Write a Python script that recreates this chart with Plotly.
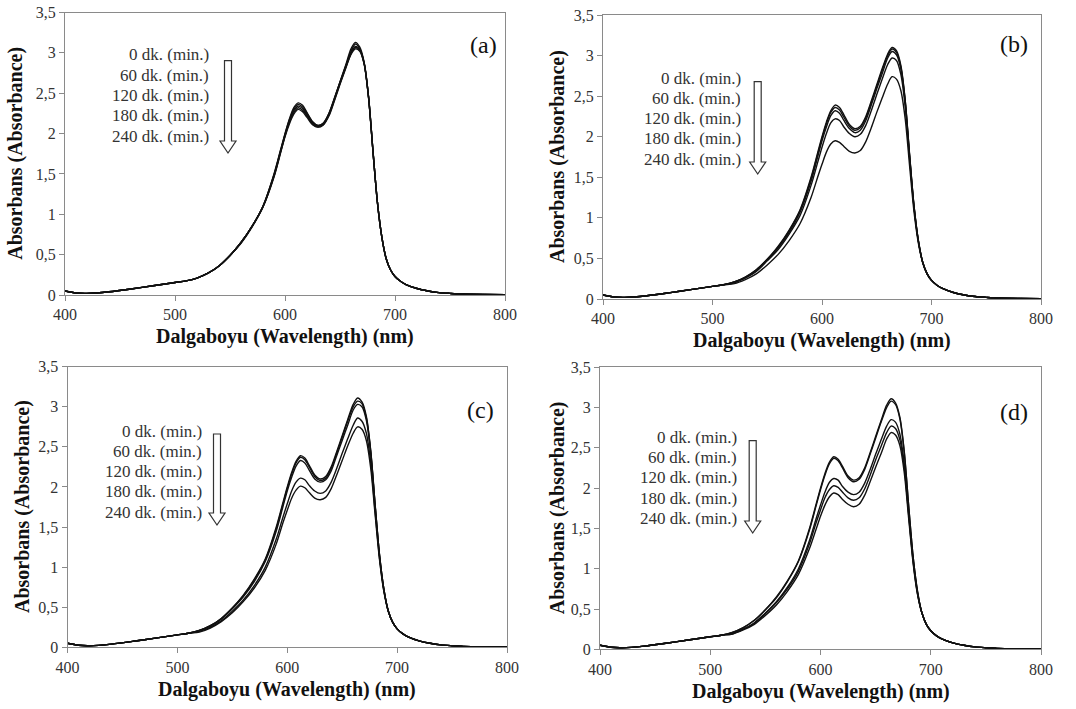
import plotly.graph_objects as go

W, H = 1076, 709

# ---------------- data ----------------
WL_LEFT = [400, 410, 420, 440, 460, 480, 500, 510]
WL_MID = [520, 530, 540, 550, 560, 570, 580, 590, 596, 600, 604, 608, 612, 616,
          620, 625, 630, 635, 640, 645, 650, 655, 660, 664, 668, 672, 676, 680, 684, 688]
WL_RIGHT = [692, 696, 700, 705, 710, 720, 730, 740, 750, 760, 780, 800]

ABS_LEFT = [0.05, 0.025, 0.02, 0.04, 0.075, 0.115, 0.155, 0.175]
ABS_RIGHT = [0.45, 0.31, 0.23, 0.17, 0.13, 0.08, 0.05, 0.03, 0.02, 0.012, 0.006, 0.003]

TIME_LABELS = ["0 dk. (min.)", "60 dk. (min.)", "120 dk. (min.)", "180 dk. (min.)", "240 dk. (min.)"]
PANEL_LABELS = ["(a)", "(b)", "(c)", "(d)"]
Y_TICK_VALS = [0, 0.5, 1, 1.5, 2, 2.5, 3, 3.5]
Y_TICK_TEXT = ["0", "0,5", "1", "1,5", "2", "2,5", "3", "3,5"]
X_TICK_VALS = [400, 500, 600, 700, 800]

# panel (a)
a_0 = [0.21, 0.27, 0.36, 0.49, 0.65, 0.85, 1.10, 1.50, 1.80, 2.00, 2.18, 2.32, 2.38, 2.35,
       2.26, 2.15, 2.10, 2.13, 2.25, 2.44, 2.64, 2.84, 3.05, 3.13, 3.07, 2.88, 2.45, 1.78, 1.15, 0.72]
a_60 = [0.21, 0.27, 0.36, 0.49, 0.65, 0.85, 1.10, 1.49, 1.79, 1.99, 2.17, 2.30, 2.36, 2.33,
        2.25, 2.14, 2.10, 2.13, 2.25, 2.44, 2.64, 2.83, 3.02, 3.11, 3.05, 2.87, 2.45, 1.78, 1.15, 0.72]
a_120 = [0.21, 0.27, 0.36, 0.49, 0.65, 0.85, 1.10, 1.48, 1.78, 1.98, 2.15, 2.28, 2.34, 2.31,
         2.23, 2.13, 2.09, 2.12, 2.24, 2.43, 2.63, 2.82, 3.00, 3.08, 3.04, 2.87, 2.45, 1.78, 1.15, 0.72]
a_180 = [0.21, 0.27, 0.36, 0.49, 0.65, 0.85, 1.09, 1.47, 1.77, 1.97, 2.14, 2.26, 2.32, 2.29,
         2.22, 2.12, 2.08, 2.11, 2.23, 2.42, 2.62, 2.81, 2.99, 3.07, 3.03, 2.86, 2.44, 1.78, 1.15, 0.72]
a_240 = [0.21, 0.27, 0.36, 0.49, 0.64, 0.84, 1.09, 1.46, 1.76, 1.96, 2.12, 2.24, 2.30, 2.27,
         2.20, 2.11, 2.08, 2.11, 2.22, 2.41, 2.61, 2.80, 2.98, 3.05, 3.02, 2.86, 2.44, 1.77, 1.15, 0.72]

# panel (b)
b_0 = [0.21, 0.27, 0.36, 0.49, 0.65, 0.85, 1.10, 1.50, 1.80, 2.00, 2.18, 2.32, 2.39, 2.36,
       2.27, 2.15, 2.10, 2.13, 2.25, 2.44, 2.64, 2.84, 3.02, 3.10, 3.06, 2.88, 2.45, 1.78, 1.15, 0.72]
b_60 = [0.21, 0.27, 0.36, 0.49, 0.64, 0.84, 1.09, 1.48, 1.78, 1.98, 2.16, 2.30, 2.36, 2.33,
        2.24, 2.13, 2.08, 2.11, 2.23, 2.42, 2.62, 2.82, 3.00, 3.08, 3.04, 2.86, 2.44, 1.77, 1.15, 0.72]
b_120 = [0.21, 0.26, 0.35, 0.48, 0.63, 0.82, 1.07, 1.45, 1.75, 1.95, 2.12, 2.26, 2.32, 2.29,
         2.20, 2.10, 2.05, 2.08, 2.20, 2.39, 2.59, 2.78, 2.97, 3.05, 3.01, 2.84, 2.42, 1.76, 1.14, 0.72]
b_180 = [0.20, 0.26, 0.34, 0.47, 0.61, 0.80, 1.03, 1.40, 1.68, 1.87, 2.04, 2.17, 2.22, 2.20,
         2.12, 2.04, 2.00, 2.03, 2.14, 2.32, 2.52, 2.71, 2.89, 2.97, 2.94, 2.77, 2.37, 1.73, 1.13, 0.71]
b_240 = [0.19, 0.24, 0.31, 0.42, 0.55, 0.72, 0.93, 1.25, 1.50, 1.66, 1.81, 1.91, 1.95, 1.93,
         1.88, 1.82, 1.80, 1.83, 1.94, 2.11, 2.30, 2.48, 2.65, 2.74, 2.71, 2.57, 2.22, 1.64, 1.08, 0.69]

# panel (c)
c_0 = [0.21, 0.27, 0.36, 0.49, 0.65, 0.85, 1.10, 1.50, 1.80, 2.00, 2.18, 2.32, 2.39, 2.36,
       2.27, 2.15, 2.10, 2.13, 2.25, 2.44, 2.64, 2.84, 3.03, 3.11, 3.06, 2.88, 2.45, 1.78, 1.15, 0.72]
c_60 = [0.21, 0.27, 0.36, 0.49, 0.64, 0.84, 1.09, 1.48, 1.78, 1.98, 2.16, 2.30, 2.37, 2.34,
        2.25, 2.13, 2.08, 2.11, 2.23, 2.42, 2.62, 2.82, 3.00, 3.07, 3.04, 2.86, 2.44, 1.77, 1.15, 0.72]
c_120 = [0.21, 0.26, 0.35, 0.48, 0.63, 0.82, 1.07, 1.45, 1.75, 1.95, 2.12, 2.26, 2.33, 2.30,
         2.21, 2.10, 2.06, 2.09, 2.20, 2.39, 2.58, 2.77, 2.96, 3.03, 3.00, 2.83, 2.42, 1.76, 1.14, 0.72]
c_180 = [0.20, 0.25, 0.33, 0.45, 0.59, 0.77, 1.00, 1.35, 1.62, 1.79, 1.95, 2.06, 2.11, 2.09,
         2.02, 1.95, 1.92, 1.95, 2.06, 2.23, 2.42, 2.60, 2.77, 2.86, 2.82, 2.67, 2.30, 1.69, 1.11, 0.70]
c_240 = [0.19, 0.24, 0.32, 0.43, 0.57, 0.74, 0.96, 1.29, 1.55, 1.71, 1.86, 1.96, 2.01, 1.99,
         1.93, 1.86, 1.84, 1.87, 1.98, 2.15, 2.33, 2.51, 2.67, 2.75, 2.72, 2.58, 2.23, 1.65, 1.09, 0.69]

# panel (d)
d_0 = [0.21, 0.27, 0.36, 0.49, 0.65, 0.85, 1.10, 1.50, 1.80, 2.00, 2.18, 2.32, 2.39, 2.36,
       2.27, 2.15, 2.10, 2.13, 2.25, 2.44, 2.64, 2.84, 3.03, 3.11, 3.06, 2.88, 2.45, 1.78, 1.15, 0.72]
d_60 = [0.21, 0.27, 0.36, 0.49, 0.64, 0.84, 1.09, 1.48, 1.78, 1.98, 2.16, 2.30, 2.37, 2.34,
        2.25, 2.13, 2.08, 2.11, 2.23, 2.42, 2.62, 2.82, 3.00, 3.08, 3.04, 2.86, 2.44, 1.77, 1.15, 0.72]
d_120 = [0.20, 0.25, 0.33, 0.45, 0.59, 0.77, 1.00, 1.35, 1.62, 1.79, 1.95, 2.07, 2.12, 2.10,
         2.02, 1.95, 1.92, 1.95, 2.06, 2.23, 2.42, 2.60, 2.77, 2.85, 2.82, 2.67, 2.30, 1.69, 1.11, 0.70]
d_180 = [0.19, 0.25, 0.32, 0.44, 0.58, 0.75, 0.97, 1.31, 1.57, 1.73, 1.88, 1.98, 2.03, 2.01,
         1.95, 1.88, 1.85, 1.88, 1.99, 2.16, 2.35, 2.52, 2.69, 2.77, 2.74, 2.60, 2.25, 1.66, 1.09, 0.69]
d_240 = [0.19, 0.24, 0.31, 0.42, 0.55, 0.72, 0.93, 1.25, 1.49, 1.65, 1.79, 1.89, 1.94, 1.92,
         1.86, 1.80, 1.77, 1.80, 1.91, 2.08, 2.26, 2.43, 2.61, 2.69, 2.66, 2.53, 2.19, 1.62, 1.07, 0.68]

PANELS = [
    [a_0, a_60, a_120, a_180, a_240],
    [b_0, b_60, b_120, b_180, b_240],
    [c_0, c_60, c_120, c_180, c_240],
    [d_0, d_60, d_120, d_180, d_240],
]

# ---------------- layout geometry (pixels) ----------------
# (left, right, top, bottom) of each plot area
BOXES = [(65, 505, 12.5, 295), (603, 1041, 15, 299),
         (67.5, 507, 366.7, 647.3), (600, 1041, 367.3, 649.3)]
# legend text: right edge x, first line y ; arrow centre x, top y, bottom y
LEG = [(211, 55, 228, 60.7, 153), (743, 78, 757.7, 81.7, 174),
       (204, 431, 217, 434, 525), (739, 437.3, 752.7, 440.7, 533)]
LABEL_POS = [(483, 45), (1014, 44), (480, 410), (1014, 412)]
YTITLE_X = [16, 557, 22, 557]

FONT = "Liberation Serif"


def px(x):
    return x / W


def py(y):
    return 1 - y / H


fig = go.Figure()
annotations = []
shapes = []

for i, curves in enumerate(PANELS):
    n = "" if i == 0 else str(i + 1)
    xa, ya = "x" + n, "y" + n
    for k, mid in enumerate(curves):
        fig.add_trace(go.Scatter(
            x=WL_LEFT + WL_MID + WL_RIGHT,
            y=ABS_LEFT + mid + ABS_RIGHT,
            mode="lines",
            line=dict(color="#111111", width=1.4, shape="spline", smoothing=0.8),
            name=TIME_LABELS[k], showlegend=False,
            xaxis=xa, yaxis=ya, hoverinfo="skip"))

    l, r, t, b = BOXES[i]
    axis_common = dict(showline=True, linecolor="#8a8a8a", linewidth=1, mirror=True,
                       ticks="outside", ticklen=5, tickcolor="#8a8a8a",
                       showgrid=False, zeroline=False, automargin=False,
                       tickfont=dict(family=FONT, size=16, color="#333333"))
    fig.update_layout(**{
        "xaxis" + n: dict(domain=[px(l), px(r)], range=[400, 800], anchor=ya,
                          tickvals=X_TICK_VALS, **axis_common),
        "yaxis" + n: dict(domain=[py(b), py(t)], range=[0, 3.5], anchor=xa,
                          tickvals=Y_TICK_VALS, ticktext=Y_TICK_TEXT, **axis_common),
    })

    # axis titles
    annotations.append(dict(x=px((l + r) / 2), y=py(b + 42), xref="paper", yref="paper",
                            text="<b>Dalgaboyu (Wavelength) (nm)</b>", showarrow=False,
                            xanchor="center", yanchor="middle",
                            font=dict(family=FONT, size=20, color="#111111")))
    annotations.append(dict(x=px(YTITLE_X[i]), y=py((t + b) / 2), xref="paper", yref="paper",
                            text="<b>Absorbans (Absorbance)</b>", showarrow=False, textangle=-90,
                            xanchor="center", yanchor="middle",
                            font=dict(family=FONT, size=20, color="#111111")))
    # panel label
    lx, ly = LABEL_POS[i]
    annotations.append(dict(x=px(lx), y=py(ly), xref="paper", yref="paper",
                            text=PANEL_LABELS[i], showarrow=False,
                            xanchor="center", yanchor="middle",
                            font=dict(family=FONT, size=24, color="#111111")))
    # time legend
    tx, ty, ax, atop, abot = LEG[i]
    for k, lab in enumerate(TIME_LABELS):
        annotations.append(dict(x=px(tx), y=py(ty + 20.3 * k), xref="paper", yref="paper",
                                text=lab, showarrow=False, xanchor="right", yanchor="middle",
                                font=dict(family=FONT, size=17, color="#333333")))
    # hollow down arrow (paper coords)
    sw, hw, hh = 3.5, 8, 12
    pts = [(ax - sw, atop), (ax + sw, atop), (ax + sw, abot - hh), (ax + hw, abot - hh),
           (ax, abot), (ax - hw, abot - hh), (ax - sw, abot - hh)]
    path = "M " + " L ".join(f"{px(x):.5f},{py(y):.5f}" for x, y in pts) + " Z"
    shapes.append(dict(type="path", xref="paper", yref="paper", path=path,
                       line=dict(color="#333333", width=1.2), fillcolor="white"))

fig.update_layout(width=W, height=H, margin=dict(l=0, r=0, t=0, b=0, autoexpand=False),
                  paper_bgcolor="white", plot_bgcolor="white",
                  annotations=annotations, shapes=shapes, showlegend=False)

fig.write_html("out.html", config={"displayModeBar": False},
               post_script="document.body.style.margin='0px';document.body.style.overflow='hidden';")
